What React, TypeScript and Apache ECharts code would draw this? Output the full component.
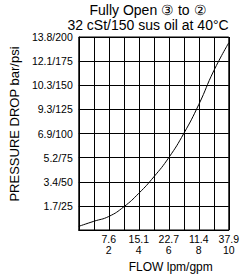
import React, { useEffect, useRef } from "react";
import * as echarts from "echarts";

const flowGpm = [0, 1, 2, 3, 4, 5, 6, 7, 8, 9, 10];
const pressurePsi = [3.8, 9, 14, 24, 38, 55, 75, 100, 130, 165, 194];
const xTickLabels: Record<number, string> = {
  2: "7.6\n2",
  4: "15.1\n4",
  6: "22.7\n6",
  8: "11.4\n8",
  10: "37.9\n10",
};
const yTickLabels: Record<number, string> = {
  25: "1.7/25",
  50: "3.4/50",
  75: "5.2/75",
  100: "6.9/100",
  125: "9.3/125",
  150: "10.3/150",
  175: "12.1/175",
  200: "13.8/200",
};
const titleLines = ["Fully Open ③ to ②", "32 cSt/150 sus oil at 40°C"];

export default function App() {
  const ref = useRef<HTMLDivElement>(null);
  useEffect(() => {
    if (!ref.current) return;
    const chart = echarts.init(ref.current, null, { renderer: "svg" });
    const font = "'Liberation Sans', Arial, sans-serif";
    chart.setOption({
      animation: false,
      backgroundColor: "#ffffff",
      grid: { left: 64, right: 10, top: 37, bottom: 46, show: true, borderColor: "#000", borderWidth: 1, backgroundColor: "transparent" },
      graphic: [
        {
          type: "text",
          x: 148,
          y: 3,
          style: {
            text: titleLines.join("\n"),
            fontFamily: font,
            fontSize: 14,
            lineHeight: 14.5,
            fill: "#000",
            textAlign: "center",
          },
        },
      ],
      xAxis: {
        type: "value",
        min: 0,
        max: 10,
        interval: 1,
        name: "FLOW lpm/gpm",
        nameLocation: "middle",
        nameGap: 31,
        nameTextStyle: { fontFamily: font, fontSize: 12, color: "#000", padding: [0, 0, 0, 34] },
        axisLine: { show: true, lineStyle: { color: "#000", width: 1 } },
        axisTick: { show: false },
        splitLine: { show: true, lineStyle: { color: "#000", width: 1 } },
        axisLabel: {
          fontFamily: font,
          fontSize: 10.5,
          color: "#000",
          lineHeight: 11,
          margin: 3,
          formatter: (v: number) => xTickLabels[v] ?? "",
        },
      },
      yAxis: {
        type: "value",
        min: 0,
        max: 200,
        interval: 25,
        name: "PRESSURE DROP bar/psi",
        nameLocation: "middle",
        nameGap: 52,
        nameRotate: 90,
        nameTextStyle: { fontFamily: font, fontSize: 13, color: "#000", padding: [0, 0, 0, 19] },
        axisLine: { show: true, lineStyle: { color: "#000", width: 1 } },
        axisTick: { show: false },
        splitLine: { show: true, lineStyle: { color: "#000", width: 1 } },
        axisLabel: {
          fontFamily: font,
          fontSize: 10.5,
          color: "#000",
          margin: 6,
          formatter: (v: number) => yTickLabels[v] ?? "",
        },
      },
      series: [
        {
          type: "line",
          data: flowGpm.map((x, i) => [x, pressurePsi[i]]),
          smooth: true,
          showSymbol: false,
          lineStyle: { color: "#000", width: 1 },
        },
      ],
    });
    return () => chart.dispose();
  }, []);
  return (
    <div
      ref={ref}
      style={{ position: "fixed", left: 0, top: 0, width: 242, height: 278 }}
    />
  );
}
